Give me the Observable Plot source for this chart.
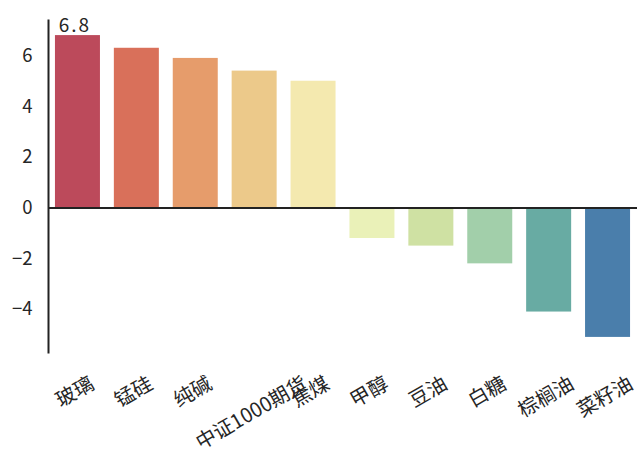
<!DOCTYPE html>
<html><head><meta charset="utf-8">
<script src="https://cdn.jsdelivr.net/npm/d3@7"></script>
<script src="https://cdn.jsdelivr.net/npm/@observablehq/plot@0.6"></script>
<style>body{margin:0;background:#fff;} svg{display:block}</style>
</head><body><div id="chart"></div>
<script>
const categories = ["玻璃","锰硅","纯碱","中证1000期货","焦煤","甲醇","豆油","白糖","棕榈油","菜籽油"];
const values = [6.8, 6.3, 5.9, 5.4, 5.0, -1.2, -1.5, -2.2, -4.1, -5.1];
const colors = ["#BC4A5B","#D9705A","#E69C6B","#ECC98A","#F4E9AF","#EAF1B8","#CFE1A3","#A2CFAA","#68ABA3","#4A7EAB"];
const yTicks = [-4, -2, 0, 2, 4, 6];

const data = categories.map((c, i) => ({category: c, value: values[i], color: colors[i]}));
const font = '"Noto Sans CJK SC", "Noto Sans", sans-serif';
const yMin = d3.min(values), yMax = d3.max(values), pad = (yMax - yMin) * 0.05;
const labelSize = 20;

const chart = Plot.plot({
  width: 639, height: 454,
  marginLeft: 48, marginRight: 2, marginTop: 20, marginBottom: 102,
  style: {fontFamily: font, fontSize: "18px", color: "#262626", background: "#fff"},
  x: {domain: categories, paddingInner: 0.236, paddingOuter: 0.118, round: false, axis: null},
  y: {domain: [yMin - pad, yMax + pad], axis: null},
  color: {type: "identity"},
  marks: [
    Plot.barY(data, {x: "category", y: "value", fill: "color"}),
    Plot.ruleY([0], {stroke: "#222", strokeWidth: 2}),
    Plot.frame({anchor: "left", stroke: "#222", strokeWidth: 2}),
    Plot.axisY({ticks: yTicks, tickSize: 0, tickPadding: 16, label: null, fontSize: 18.5, fill: "#262626"}),
    Plot.text(data, {x: "category", text: "category", frameAnchor: "bottom", rotate: -30,
      textAnchor: "middle", lineAnchor: "middle", dy: 21, dx: -3, fontSize: labelSize, fill: "#262626"}),
    Plot.text(data.filter(d => d.value === yMax), {x: "category", y: "value", text: d => d.value.toFixed(1),
      lineAnchor: "bottom", dy: -4, dx: -3, fontSize: 19, fill: "#262626"})
  ]
});
document.getElementById("chart").append(chart);

const svg = chart.tagName.toLowerCase() === "svg" ? chart : chart.querySelector("svg");
svg.querySelectorAll("text").forEach(t => {
  const tr = t.getAttribute("transform") || "";
  if (t.textContent === (yMax).toFixed(1)) t.style.letterSpacing = "2px";
  if (!categories.includes(t.textContent) || !tr.includes("rotate")) return;
  // matplotlib-style rotated labels: centre of rotated box hangs below the axis
  const w = t.getComputedTextLength();
  const extra = (w * 0.5 + labelSize * 0.866) / 2;
  const m = tr.match(/translate\(([-\d.e]+)[ ,]+([-\d.e]+)\)/);
  if (m) {
    const nx = +m[1], ny = +m[2] + extra;
    t.setAttribute("transform", tr.replace(m[0], `translate(${nx},${ny})`));
  }
});
</script>
</body></html>
